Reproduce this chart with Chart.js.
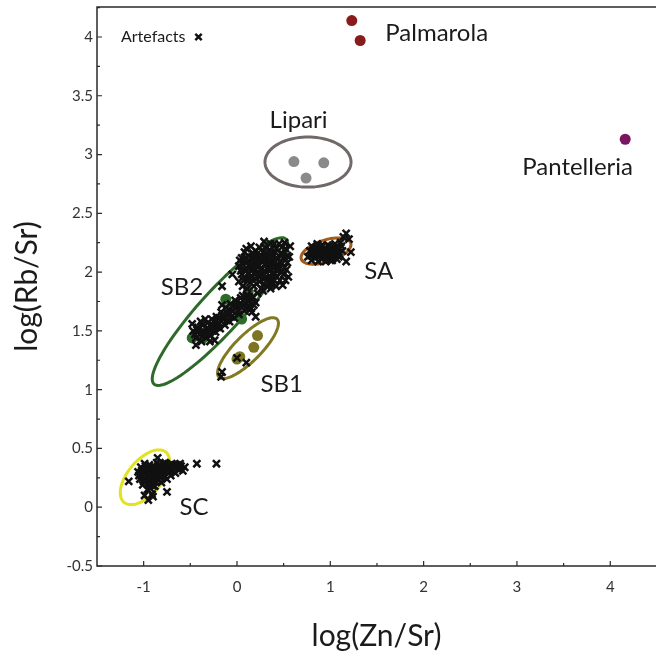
<!DOCTYPE html>
<html>
<head>
<meta charset="utf-8">
<script src="https://cdn.jsdelivr.net/npm/chart.js@4/dist/chart.umd.min.js"></script>
<style>
  html, body { margin: 0; padding: 0; background: #fff; }
  #wrap { width: 656px; height: 661px; }
</style>
</head>
<body>
<div id="wrap"><canvas id="c" width="656" height="661"></canvas></div>
<script>
// ---------- DATA ----------
const xTicks = [-1, 0, 1, 2, 3, 4];
const yTicks = [-0.5, 0, 0.5, 1, 1.5, 2, 2.5, 3, 3.5, 4];

const palmarola = [[1.23, 4.14], [1.32, 3.97]];
const pantelleria = [[4.16, 3.13]];
const lipari = [[0.61, 2.94], [0.93, 2.93], [0.74, 2.80]];
const sb1 = [[0.22, 1.46], [0.18, 1.36], [0.03, 1.28], [0.00, 1.26]];
const sb2 = [[-0.48, 1.44], [-0.36, 1.44], [-0.12, 1.77], [0.12, 1.83], [0.05, 1.60]];

const artefactsSA = [
  [0.76,2.13],[0.78,2.18],[0.80,2.10],[0.81,2.15],[0.83,2.20],[0.84,2.12],[0.85,2.16],[0.87,2.09],
  [0.88,2.19],[0.89,2.14],[0.90,2.22],[0.91,2.11],[0.92,2.17],[0.93,2.13],[0.94,2.20],[0.95,2.09],
  [0.96,2.15],[0.97,2.23],[0.98,2.12],[0.99,2.18],[1.00,2.14],[1.01,2.21],[1.02,2.10],[1.03,2.17],
  [1.04,2.13],[1.05,2.24],[1.06,2.16],[1.07,2.11],[1.08,2.20],[1.10,2.15],[1.11,2.25],[1.13,2.18],
  [1.17,2.33],[1.20,2.28],[1.22,2.17],[1.17,2.09],[1.14,2.30],[0.86,2.24],[0.80,2.22],
  [0.79,2.14],[0.82,2.17],[0.85,2.20],[0.88,2.13],[0.90,2.17],[0.93,2.19],[0.95,2.13],[0.97,2.18],
  [1.00,2.10],[1.02,2.19],[1.04,2.16],[1.06,2.20],[1.09,2.13],[1.12,2.22],[0.83,2.15],[0.92,2.23],
  [0.99,2.22],[1.03,2.12],[0.87,2.17],[0.96,2.11]
];
const artefactsSB2 = [
  [0.02,1.92],[0.05,1.98],[0.06,1.88],[0.08,2.02],[0.09,1.94],[0.10,2.08],[0.11,1.86],[0.12,1.99],
  [0.13,2.05],[0.14,1.91],[0.15,2.12],[0.16,1.96],[0.17,2.02],[0.18,1.88],[0.19,2.08],[0.20,1.94],
  [0.21,2.15],[0.22,2.00],[0.23,2.05],[0.24,1.92],[0.25,2.10],[0.26,1.97],[0.27,2.03],[0.28,2.17],
  [0.29,1.90],[0.30,2.07],[0.31,2.00],[0.32,2.12],[0.33,1.95],[0.34,2.05],[0.35,2.19],[0.36,2.02],
  [0.37,1.93],[0.38,2.09],[0.39,2.14],[0.40,1.99],[0.41,2.05],[0.42,2.20],[0.43,1.96],[0.44,2.11],
  [0.45,2.03],[0.47,2.16],[0.48,2.07],[0.50,2.12],[0.52,2.20],[0.54,2.08],[0.51,2.25],[0.29,2.26],
  [0.57,2.22],[0.36,2.24],[0.20,2.18],[0.45,2.24],[0.12,2.14],[0.40,2.24],[0.48,2.21],[0.54,2.14],
  [0.02,2.05],[0.05,2.12],[0.08,2.17],[0.03,2.10],[0.10,2.20],[0.15,2.22],[0.24,2.21],[0.32,1.88],
  [0.38,1.90],[0.42,1.88],[0.46,1.93],[0.50,1.98],[0.53,2.02],[0.55,1.96],[0.49,1.89],[0.26,1.86],
  [0.30,1.95],[0.18,1.99],[0.23,1.97],[0.27,2.09],[0.33,2.03],[0.38,1.98],[0.44,2.06],[0.47,2.00],
  [0.07,1.93],[0.14,2.09],[0.19,2.12],[0.31,2.16],[0.37,2.13],[0.41,2.17],[0.56,2.13],[0.25,2.02],
  [0.35,2.09],[0.16,2.04],[0.04,2.01],
  [0.06,2.07],[0.09,2.12],[0.13,1.95],[0.17,2.16],[0.21,1.90],[0.22,2.10],[0.26,2.14],[0.28,1.98],
  [0.30,2.21],[0.33,2.08],[0.34,1.91],[0.36,2.17],[0.39,2.03],[0.40,1.93],[0.42,2.12],[0.43,2.01],
  [0.46,2.09],[0.49,2.15],[0.51,2.04],[0.52,1.93],[0.18,2.05],[0.24,1.99],[0.10,2.01],[0.29,2.12],
  [0.37,2.05],
  [0.20,1.74],[0.15,1.69],[0.22,1.82],[0.28,1.84],[0.36,1.86],[-0.16,1.88],[-0.05,1.98],
  [-0.47,1.50],[-0.44,1.44],[-0.42,1.53],[-0.40,1.47],[-0.38,1.41],[-0.37,1.55],[-0.35,1.49],[-0.33,1.44],
  [-0.31,1.57],[-0.30,1.51],[-0.28,1.46],[-0.27,1.60],[-0.25,1.54],[-0.23,1.49],[-0.22,1.62],[-0.20,1.57],
  [-0.18,1.52],[-0.17,1.66],[-0.15,1.60],[-0.13,1.55],[-0.12,1.70],[-0.10,1.64],[-0.08,1.58],[-0.07,1.73],
  [-0.05,1.67],[-0.03,1.61],[-0.02,1.76],[0.00,1.70],[0.02,1.64],[0.04,1.78],[0.06,1.72],[0.08,1.67],
  [0.10,1.80],[0.12,1.75],[0.14,1.70],[0.16,1.66],[-0.48,1.56],[-0.44,1.38],[-0.24,1.42],[0.20,1.62],
  [-0.34,1.60],
  [-0.45,1.47],[-0.41,1.50],[-0.36,1.46],[-0.32,1.52],[-0.29,1.55],[-0.26,1.50],[-0.21,1.53],[-0.19,1.61],
  [-0.14,1.64],[-0.11,1.59],[-0.09,1.68],[-0.06,1.62],[-0.04,1.71],[0.01,1.67],[0.03,1.73],[0.07,1.76],
  [0.11,1.70],[0.13,1.79],[-0.39,1.58],[-0.29,1.41],[-0.16,1.72],[0.18,1.72],
  [-0.43,1.51],[-0.37,1.50],[-0.33,1.48],[-0.27,1.55],[-0.24,1.58],[-0.19,1.56],[-0.16,1.63],[-0.11,1.66],
  [-0.07,1.65],[-0.01,1.72],[0.05,1.70],[0.09,1.74],[0.14,1.76],[0.17,1.79],[0.06,1.80]
];
const artefactsSB1 = [[-0.17,1.11],[-0.16,1.15],[0.00,1.27],[0.10,1.23]];
const artefactsSC = [
  [-1.06,0.30],[-1.04,0.24],[-1.03,0.34],[-1.01,0.19],[-1.00,0.28],[-0.99,0.37],[-0.98,0.23],[-0.97,0.32],
  [-0.96,0.15],[-0.95,0.27],[-0.94,0.36],[-0.93,0.21],[-0.92,0.31],[-0.91,0.11],[-0.90,0.25],[-0.89,0.35],
  [-0.88,0.18],[-0.87,0.29],[-0.86,0.38],[-0.85,0.23],[-0.84,0.32],[-0.83,0.27],[-0.82,0.36],[-0.81,0.21],
  [-0.80,0.30],[-0.79,0.34],[-0.78,0.26],[-0.77,0.38],[-0.76,0.31],[-0.75,0.24],[-0.74,0.35],[-0.73,0.29],
  [-0.72,0.33],[-0.71,0.27],[-0.70,0.37],[-0.69,0.31],[-0.67,0.34],[-0.66,0.29],[-0.64,0.36],[-0.62,0.32],
  [-0.60,0.35],[-0.58,0.31],[-0.56,0.34],
  [-1.05,0.27],[-1.02,0.31],[-1.00,0.22],[-0.98,0.35],[-0.97,0.26],[-0.95,0.31],[-0.94,0.19],[-0.92,0.28],
  [-0.91,0.34],[-0.89,0.22],[-0.88,0.32],[-0.87,0.25],[-0.85,0.35],[-0.84,0.28],[-0.82,0.31],[-0.81,0.26],
  [-0.79,0.37],[-0.78,0.31],[-0.76,0.34],[-0.74,0.30],[-0.72,0.36],[-0.70,0.33],[-0.68,0.36],[-0.65,0.33],
  [-0.63,0.35],[-0.93,0.16],[-0.96,0.20],[-0.90,0.18],[-1.03,0.27],[-0.61,0.37],
  [-1.16,0.22],[-0.43,0.37],[-0.22,0.37],[-0.85,0.42],[-0.75,0.13],[-0.95,0.06],[-0.90,0.09],[-0.99,0.10]
];

// confidence ellipses: centre and two conjugate semi-axes, in data units
const ellipseNames   = ['Lipari', 'SA', 'SB2', 'SB1', 'SC'];
const ellipseCentres = [[0.761, 2.936], [0.954, 2.179], [-0.182, 1.664], [0.118, 1.353], [-0.986, 0.255]];
const ellipseAxisU   = [[0.461, 0], [0.265, 0.068], [0.707, 0.617], [0.311, 0.247], [0.225, 0.213]];
const ellipseAxisV   = [[0, -0.213], [0.036, -0.089], [0.166, -0.120], [0.099, -0.078], [0.139, -0.094]];

// group labels, anchored at data coordinates
const labelTexts   = ['Palmarola', 'Pantelleria', 'Lipari', 'SB2', 'SA', 'SB1', 'SC'];
const labelAnchors = [[2.14, 4.03], [3.65, 2.89], [0.66, 3.29], [-0.59, 1.87], [1.52, 2.01], [0.48, 1.05], [-0.46, 0.0]];

// ---------- STYLE ----------
const FONT = 'Lato, "Open Sans", sans-serif';
const ellipseColours = { Lipari: '#716868', SA: '#a65a1c', SB2: '#2f6a2b', SB1: '#807a22', SC: '#e2e21e' };
const toPts = arr => arr.map(p => ({ x: p[0], y: p[1] }));
const artefacts = [].concat(artefactsSA, artefactsSB2, artefactsSB1, artefactsSC);

const dotDS = (label, data, color) => ({
  label, data: toPts(data), backgroundColor: color, borderWidth: 0,
  pointRadius: 5.5, pointStyle: 'circle', pointHoverRadius: 5.5
});

const ellipsePlugin = {
  id: 'ellipses',
  beforeDatasetsDraw(chart) {
    const { ctx, scales: { x, y } } = chart;
    ctx.save();
    ctx.lineWidth = 3;
    ellipseNames.forEach((n, i) => {
      const [cx, cy] = ellipseCentres[i], u = ellipseAxisU[i], v = ellipseAxisV[i];
      ctx.strokeStyle = ellipseColours[n];
      ctx.beginPath();
      for (let k = 0; k <= 96; k++) {
        const t = k / 96 * Math.PI * 2;
        const px = x.getPixelForValue(cx + u[0] * Math.cos(t) + v[0] * Math.sin(t));
        const py = y.getPixelForValue(cy + u[1] * Math.cos(t) + v[1] * Math.sin(t));
        k ? ctx.lineTo(px, py) : ctx.moveTo(px, py);
      }
      ctx.closePath();
      ctx.stroke();
    });
    ctx.restore();
  }
};

const framePlugin = {
  id: 'frame',
  afterDraw(chart) {
    const { ctx, chartArea: a, scales: { x, y } } = chart;
    ctx.save();
    ctx.strokeStyle = '#2a2a2a';
    ctx.lineWidth = 1.5;
    ctx.beginPath();
    ctx.moveTo(a.right + 2, a.top); ctx.lineTo(a.left, a.top);
    ctx.lineTo(a.left, a.bottom); ctx.lineTo(a.right + 2, a.bottom);
    ctx.stroke();
    ctx.lineWidth = 1.2;
    ctx.beginPath();
    for (let i = 0; i < yTicks.length; i++) {
      const py = y.getPixelForValue(yTicks[i]);
      ctx.moveTo(a.left, py); ctx.lineTo(a.left + 5, py);
      const m = yTicks[i] + 0.25;
      if (m < y.max) { const pm = y.getPixelForValue(m); ctx.moveTo(a.left, pm); ctx.lineTo(a.left + 3, pm); }
    }
    for (let i = 0; i < xTicks.length; i++) {
      const px = x.getPixelForValue(xTicks[i]);
      ctx.moveTo(px, a.bottom); ctx.lineTo(px, a.bottom - 5);
      [xTicks[i] - 0.5, xTicks[i] + 0.5].forEach(m => {
        if (m > x.min && m < x.max) { const pm = x.getPixelForValue(m); ctx.moveTo(pm, a.bottom); ctx.lineTo(pm, a.bottom - 3); }
      });
    }
    ctx.stroke();
    ctx.restore();
  }
};

const labelPlugin = {
  id: 'groupLabels',
  afterDatasetsDraw(chart) {
    const { ctx, chartArea: a, scales: { x, y } } = chart;
    ctx.save();
    ctx.fillStyle = '#1b1b1b';
    ctx.font = '24px ' + FONT;
    ctx.textAlign = 'center';
    ctx.textBaseline = 'middle';
    labelTexts.forEach((t, i) => {
      ctx.fillText(t, x.getPixelForValue(labelAnchors[i][0]), y.getPixelForValue(labelAnchors[i][1]));
    });
    ctx.font = '16px ' + FONT;
    ctx.textAlign = 'left';
    const ly = y.getPixelForValue(4);
    ctx.fillText('Artefacts', a.left + 24, ly);
    const w = ctx.measureText('Artefacts').width;
    ctx.strokeStyle = '#111';
    ctx.lineWidth = 2.5;
    Chart.helpers.drawPoint(ctx, { pointStyle: 'crossRot', radius: 4.5, rotation: 0, borderWidth: 2.5 }, a.left + 24 + w + 13, ly);
    ctx.restore();
  }
};

const noPad = s => { s.paddingTop = 0; s.paddingBottom = 0; s.paddingLeft = 0; s.paddingRight = 0; };

new Chart(document.getElementById('c'), {
  type: 'scatter',
  data: {
    datasets: [
      {
        label: 'Artefacts', data: toPts(artefacts), pointStyle: 'crossRot',
        pointRadius: 5, pointHoverRadius: 5, borderColor: '#111', backgroundColor: '#111', borderWidth: 2.5
      },
      dotDS('SB2', sb2, '#2f6a2b'),
      dotDS('SB1', sb1, '#7d7521'),
      dotDS('Lipari', lipari, '#8a8a8a'),
      dotDS('Pantelleria', pantelleria, '#7b1461'),
      dotDS('Palmarola', palmarola, '#8a1b1b')
    ]
  },
  options: {
    responsive: false,
    animation: false,
    events: [],
    layout: { autoPadding: false, padding: { top: 7, right: 0, bottom: 0, left: 0 } },
    plugins: { legend: { display: false }, tooltip: { enabled: false } },
    scales: {
      x: {
        type: 'linear', min: -1.5, max: 4.49,
        afterBuildTicks: s => { s.ticks = xTicks.map(v => ({ value: v })); },
        afterFit: s => { s.height = 95; noPad(s); },
        grid: { display: false, drawTicks: false },
        border: { display: false },
        ticks: { color: '#333', font: { family: FONT, size: 15 }, padding: 12, callback: v => String(v), maxRotation: 0 },
        title: { display: true, text: 'log(Zn/Sr)', color: '#1b1b1b', font: { family: FONT, size: 30 }, padding: { top: 0, bottom: 7 } }
      },
      y: {
        type: 'linear', min: -0.5, max: 4.255,
        afterBuildTicks: s => { s.ticks = yTicks.map(v => ({ value: v })); },
        afterFit: s => { s.width = 97; noPad(s); },
        grid: { display: false, drawTicks: false },
        border: { display: false },
        ticks: { color: '#333', font: { family: FONT, size: 15 }, padding: 4, callback: v => String(v) },
        title: { display: true, text: 'log(Rb/Sr)', color: '#1b1b1b', font: { family: FONT, size: 30 }, padding: { top: 9, bottom: 0 } }
      }
    }
  },
  plugins: [ellipsePlugin, labelPlugin, framePlugin]
});
</script>
</body>
</html>
